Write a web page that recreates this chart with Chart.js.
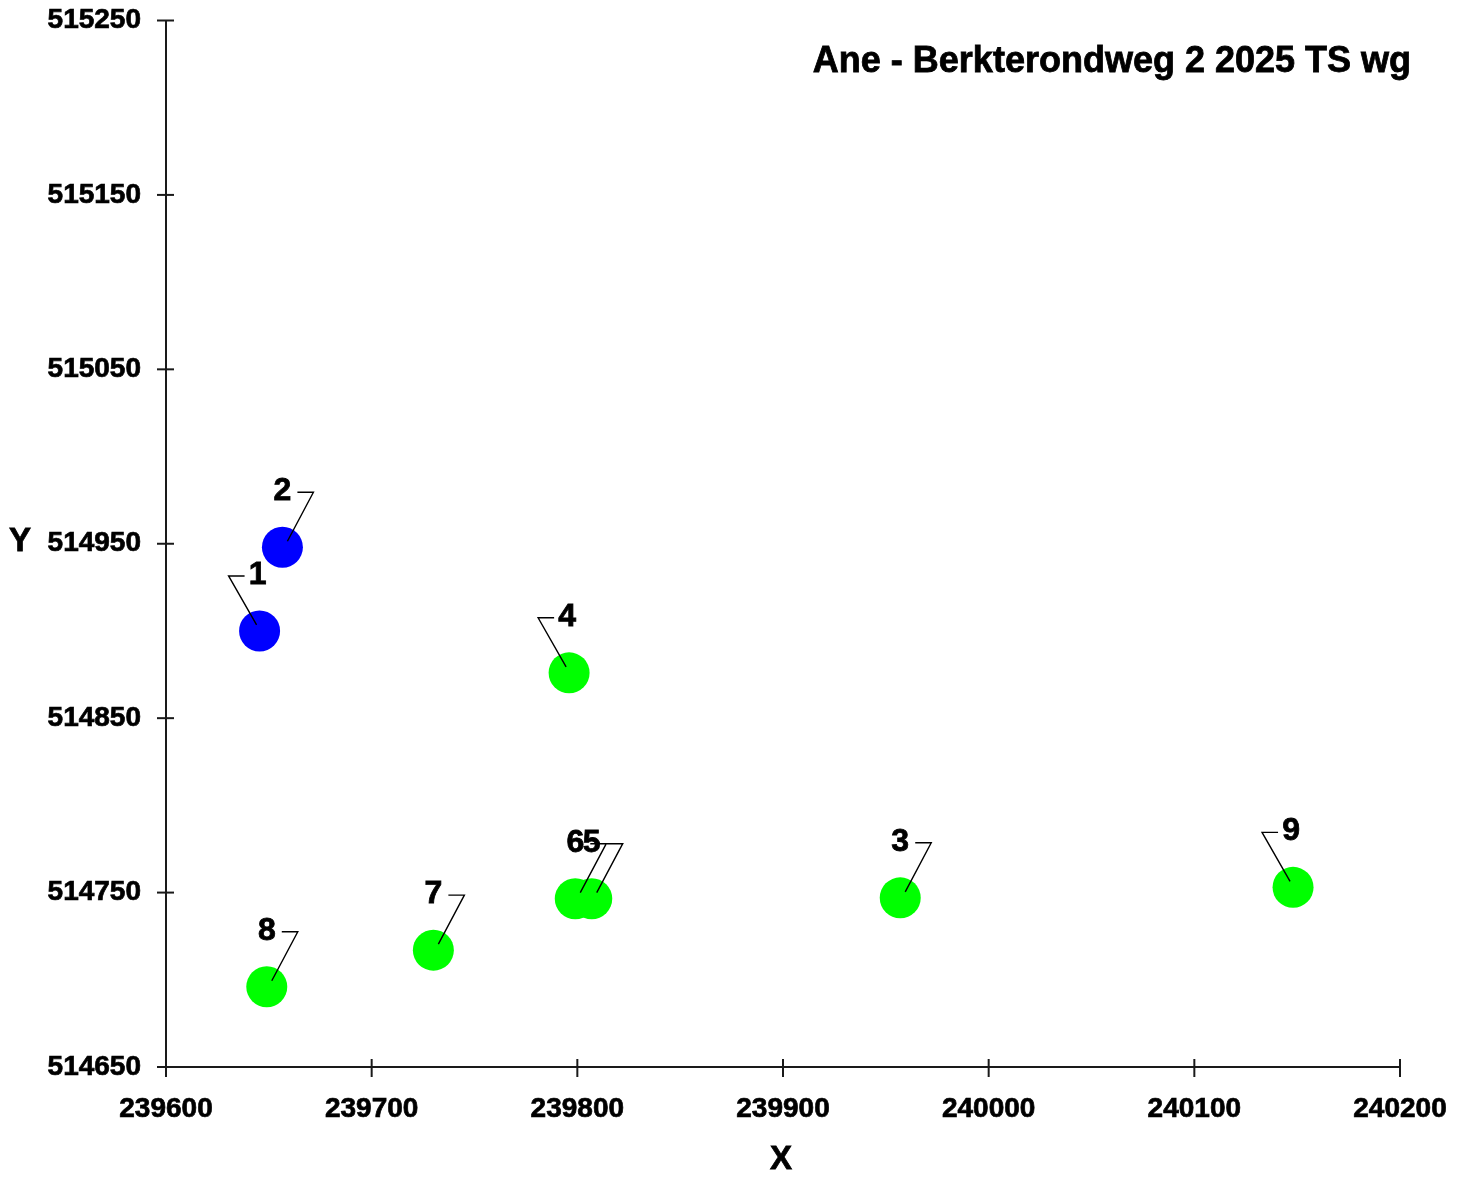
<!DOCTYPE html>
<html>
<head>
<meta charset="utf-8">
<script src="https://cdn.jsdelivr.net/npm/chart.js@4.4.1/dist/chart.umd.min.js"></script>
<style>
  html, body { margin: 0; padding: 0; background: #ffffff; }
  #wrap { width: 1469px; height: 1182px; position: relative; }
</style>
</head>
<body>
<div id="wrap"><canvas id="c"></canvas></div>
<script>
// ---- data ----
const chartTitle = 'Ane - Berkterondweg 2 2025 TS wg';
const pointIds = ['1', '2', '3', '4', '5', '6', '7', '8', '9'];
const xValues = [239645.5, 239656.6, 239957, 239796, 239807, 239799, 239730, 239649, 240148];
const yValues = [514900, 514948, 514747, 514876, 514746.5, 514746.5, 514717, 514696, 514753];
const groupOf = ['A', 'A', 'B', 'B', 'B', 'B', 'B', 'B', 'B'];
const xTicks = [239600, 239700, 239800, 239900, 240000, 240100, 240200];
const yTicks = [514650, 514750, 514850, 514950, 515050, 515150, 515250];

// ---- styling ----
const groupColor = { A: '#0000ff', B: '#00ff00' };
const leftLabelIds = ['1', '4', '9'];
const FONT = '"Liberation Sans", Arial, sans-serif';
const AXIS_COLOR = '#1a1a1a';

function pts(g) {
  const out = [];
  pointIds.forEach((id, i) => { if (groupOf[i] === g) out.push({ x: xValues[i], y: yValues[i], id: id }); });
  return out;
}

function boldText(ctx, txt, x, y) {
  ctx.fillText(txt, x, y);
  ctx.strokeText(txt, x, y);
}

const overlay = {
  id: 'overlay',
  afterDatasetsDraw(chart) {
    const ctx = chart.ctx;
    const xs = chart.scales.x, ys = chart.scales.y;
    ctx.save();
    // cross tick marks
    ctx.strokeStyle = AXIS_COLOR;
    ctx.lineWidth = 2;
    yTicks.forEach(v => {
      const py = ys.getPixelForValue(v);
      ctx.beginPath(); ctx.moveTo(xs.left - 9, py); ctx.lineTo(xs.left + 8, py); ctx.stroke();
    });
    xTicks.forEach(v => {
      const px = xs.getPixelForValue(v);
      ctx.beginPath(); ctx.moveTo(px, ys.bottom - 8); ctx.lineTo(px, ys.bottom + 10); ctx.stroke();
    });
    // leader lines
    ctx.strokeStyle = '#000000';
    ctx.lineWidth = 1.4;
    pointIds.forEach((id, i) => {
      const px = xs.getPixelForValue(xValues[i]);
      const py = ys.getPixelForValue(yValues[i]);
      const left = leftLabelIds.includes(id);
      const s = left ? -1 : 1;
      ctx.beginPath();
      ctx.moveTo(px + s * (left ? 3 : 5), py - 6);
      ctx.lineTo(px + s * 31, py - 55);
      ctx.lineTo(px + s * 15, py - 55);
      ctx.stroke();
    });
    // labels
    ctx.fillStyle = '#000000';
    ctx.strokeStyle = '#000000';
    ctx.lineWidth = 0.8;
    ctx.font = 'bold 32px ' + FONT;
    ctx.textAlign = 'center';
    ctx.textBaseline = 'middle';
    pointIds.forEach((id, i) => {
      const px = xs.getPixelForValue(xValues[i]);
      const py = ys.getPixelForValue(yValues[i]);
      const left = leftLabelIds.includes(id);
      boldText(ctx, id, px + (left ? -2 : 0), py - 56);
    });
    // title & axis titles
    ctx.font = 'bold 36px ' + FONT;
    ctx.textAlign = 'right';
    boldText(ctx, chartTitle, 1411, 62);
    ctx.font = 'bold 33px ' + FONT;
    ctx.textAlign = 'center';
    boldText(ctx, 'Y', 20, 542);
    boldText(ctx, 'X', 781, 1160);
    ctx.restore();
  }
};

const tickFont = { family: FONT, size: 28, weight: 'bold' };

new Chart(document.getElementById('c'), {
  type: 'scatter',
  data: {
    datasets: [
      { data: pts('A'), backgroundColor: groupColor.A, borderWidth: 0, pointRadius: 20.5, pointHoverRadius: 20.5 },
      { data: pts('B'), backgroundColor: groupColor.B, borderWidth: 0, pointRadius: 20.5, pointHoverRadius: 20.5 }
    ]
  },
  options: {
    responsive: true,
    maintainAspectRatio: false,
    animation: false,
    events: [],
    layout: { padding: { left: 0, right: 69, top: 19, bottom: 0 } },
    plugins: { legend: { display: false }, tooltip: { enabled: false }, title: { display: false } },
    scales: {
      x: {
        type: 'linear',
        min: xTicks[0], max: xTicks[xTicks.length - 1],
        afterBuildTicks(s) { s.ticks = xTicks.map(v => ({ value: v })); },
        afterFit(s) { s.height = 115; s.paddingLeft = 0; s.paddingRight = 0; },
        grid: { display: false, drawTicks: false },
        border: { display: true, color: AXIS_COLOR, width: 2 },
        ticks: { padding: 25, color: '#000000', textStrokeColor: '#000000', textStrokeWidth: 0.7, font: tickFont, callback: v => String(v), maxRotation: 0, autoSkip: false }
      },
      y: {
        type: 'linear',
        min: yTicks[0], max: yTicks[yTicks.length - 1],
        afterBuildTicks(s) { s.ticks = yTicks.map(v => ({ value: v })); },
        afterFit(s) { s.width = 166; s.paddingTop = 0; s.paddingBottom = 0; },
        grid: { display: false, drawTicks: false },
        border: { display: true, color: AXIS_COLOR, width: 2 },
        ticks: { padding: 25, color: '#000000', textStrokeColor: '#000000', textStrokeWidth: 0.7, font: tickFont, callback: v => String(v), autoSkip: false }
      }
    }
  },
  plugins: [overlay]
});
</script>
</body>
</html>
